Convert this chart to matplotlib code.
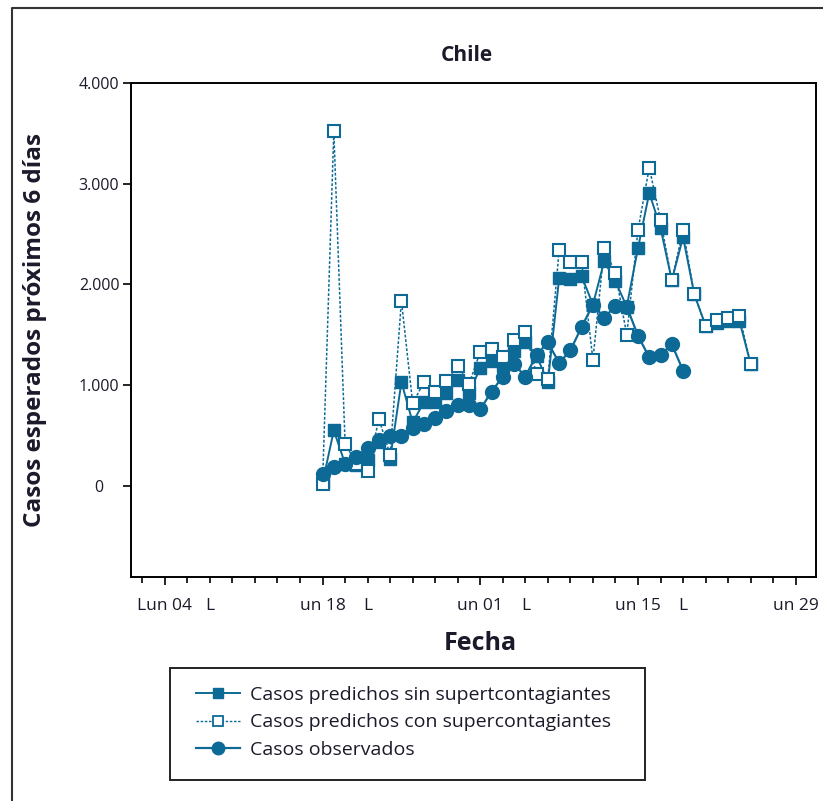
import numpy as np
import pandas as pd
import matplotlib
matplotlib.use("Agg")
import matplotlib.pyplot as plt
import matplotlib.dates as mdates
from matplotlib.ticker import FixedLocator, FuncFormatter
from matplotlib.lines import Line2D
from matplotlib.patches import Rectangle

plt.rcParams['font.family'] = ['Open Sans', 'DejaVu Sans']

# ---- data ----
start_pred = "2020-05-18"
pred_sin = [30, 550, 220, 210, 260, 440, 270, 1030, 630, 830, 830, 920, 1050, 920,
            1170, 1240, 1190, 1340, 1430, 1290, 1030, 2060, 2050, 2080, 1800, 2230,
            2030, 1780, 2360, 2910, 2560, 2040, 2470, 1900, 1590, 1620, 1640, 1640, 1210]
pred_con = [20, 3520, 420, 220, 150, 665, 310, 1840, 820, 1030, 930, 1045, 1190, 1010,
            1330, 1360, 1280, 1445, 1530, 1110, 1065, 2340, 2220, 2220, 1250, 2360,
            2110, 1500, 2540, 3160, 2640, 2040, 2540, 1900, 1590, 1645, 1665, 1690, 1210]
observed = [120, 190, 215, 290, 375, 450, 495, 495, 570, 610, 675, 740, 800, 800,
            760, 935, 1085, 1210, 1085, 1300, 1425, 1220, 1345, 1578, 1800, 1670,
            1785, 1780, 1490, 1275, 1300, 1405, 1145]
labels = ["Casos predichos sin supertcontagiantes",
          "Casos predichos con supercontagiantes",
          "Casos observados"]
major_dates = ["2020-05-04", "2020-05-18", "2020-06-01", "2020-06-15", "2020-06-29"]
major_labels = ["Lun 04", "un 18", "un 01", "un 15", "un 29"]
l_dates = ["2020-05-08", "2020-05-22", "2020-06-05", "2020-06-19"]
y_ticks = [0, 1000, 2000, 3000, 4000]

color = "#0d6a96"
txt = "#1a1a2a"

dates_pred = pd.date_range(start_pred, periods=len(pred_sin), freq="D")
dates_obs = pd.date_range(start_pred, periods=len(observed), freq="D")

fig = plt.figure(figsize=(8.23, 8.01), dpi=100)
ax = fig.add_axes([0.1592, 0.2797, 0.8323, 0.6167])

ax.plot(dates_pred, pred_sin, color=color, lw=1.4, marker="s", ms=8.5,
        mfc=color, mec=color, label=labels[0], zorder=3)
ax.plot(dates_pred, pred_con, color=color, lw=1.1, ls=(0, (1.8, 1.2)), marker="s",
        ms=8.5, mfc="white", mec=color, mew=1.5, label=labels[1], zorder=4)
ax.plot(dates_obs, observed, color=color, lw=1.6, marker="o", ms=10,
        mfc=color, mec=color, label=labels[2], zorder=5)

ax.set_ylim(-905, 4000)
ax.set_xlim(mdates.date2num(pd.Timestamp("2020-05-01")),
            mdates.date2num(pd.Timestamp("2020-07-01")) - 0.2)

ax.set_yticks(y_ticks)
ax.yaxis.set_major_formatter(FuncFormatter(lambda v, p: f"{int(v):,}".replace(",", ".")))

maj = [mdates.date2num(pd.Timestamp(d)) for d in major_dates]
ax.xaxis.set_major_locator(FixedLocator(maj))
ax.set_xticklabels(major_labels)
minor = mdates.date2num(pd.date_range("2020-05-02", "2020-07-01", freq="2D"))
ax.xaxis.set_minor_locator(FixedLocator(minor))
lpos = {round(mdates.date2num(pd.Timestamp(d))): "L" for d in l_dates}
ax.xaxis.set_minor_formatter(FuncFormatter(lambda v, p: lpos.get(round(v), "")))

ax.tick_params(axis="y", which="major", length=6, width=1.2, colors="black",
               labelcolor=txt, labelsize=11.5, pad=17)
for lab in ax.get_yticklabels():
    lab.set_horizontalalignment("center")
ax.tick_params(axis="x", which="major", length=6, width=1.2, colors="black",
               labelcolor=txt, labelsize=12.5, pad=9)
ax.tick_params(axis="x", which="minor", length=4.5, width=1.2, colors="black",
               labelcolor=txt, labelsize=12.5, pad=10.5)
for s in ax.spines.values():
    s.set_linewidth(1.4)
    s.set_color("black")

fig.text(0.5675, 0.931, "Chile", ha="center", va="center", fontsize=15,
         fontweight="bold", color=txt)
fig.text(0.0425, 0.588, "Casos esperados próximos 6 días", rotation=90, ha="center",
         va="center", fontsize=17.5, fontweight="bold", color=txt)
fig.text(0.5835, 0.197, "Fecha", ha="center", va="center", fontsize=18,
         fontweight="bold", color=txt)

# legend box
fig.patches.append(Rectangle((170 / 823, 1 - 780 / 801), 475 / 823, 112 / 801,
                             transform=fig.transFigure, fill=False, lw=1.4,
                             edgecolor="#222222"))
handles = [
    Line2D([], [], color=color, lw=1.4, marker="s", ms=7.5, mfc=color, mec=color),
    Line2D([], [], color=color, lw=1.0, ls=(0, (1.8, 1.2)), marker="s", ms=7,
           mfc="white", mec=color, mew=1.3),
    Line2D([], [], color=color, lw=1.6, marker="o", ms=9, mfc=color, mec=color),
]
fig.legend(handles, labels, loc="upper left", bbox_to_anchor=(182 / 823, 1 - 672 / 801),
           frameon=False, fontsize=14, handlelength=2.3, handletextpad=0.5,
           labelspacing=0.5, labelcolor=txt, borderpad=0.2)

# outer border
fig.add_artist(Line2D([12 / 823, 12 / 823, 1.0], [0.0, 1 - 8 / 801, 1 - 8 / 801],
                      transform=fig.transFigure, color="#333333", lw=1.5))

fig.savefig("out.png", dpi=100)
